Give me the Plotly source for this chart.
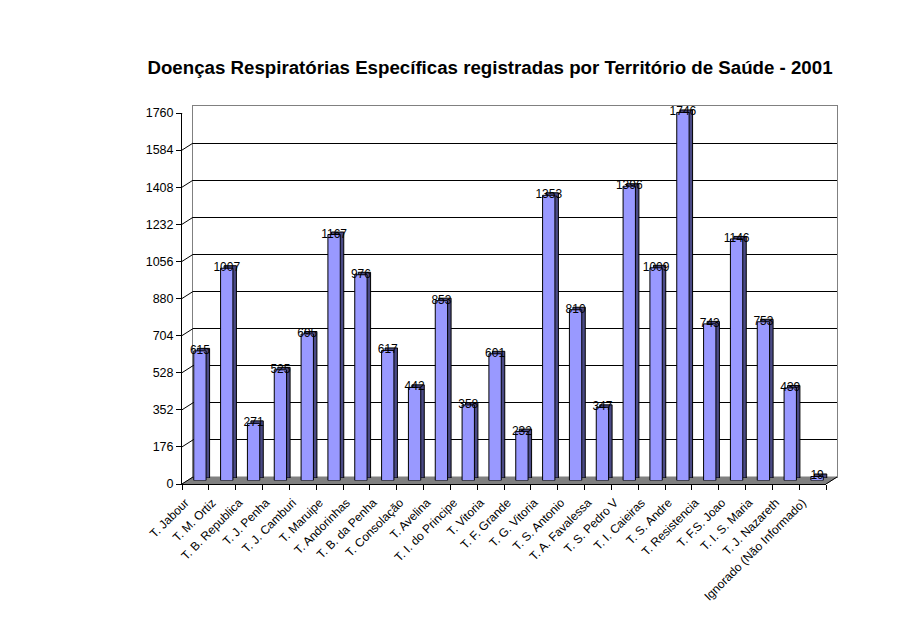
import plotly.graph_objects as go

categories = ["T. Jabour", "T. M. Ortiz", "T. B. Republica", "T. J. Penha", "T. J. Camburi",
              "T. Maruipe", "T. Andorinhas", "T. B. da Penha", "T. Consolação", "T. Avelina",
              "T. I. do Principe", "T. Vitoria", "T. F. Grande", "T. G. Vitoria", "T. S. Antonio",
              "T. A. Favalessa", "T. S. Pedro V", "T. I. Caieiras", "T. S. Andre", "T. Resistencia",
              "T. F.S. Joao", "T. I. S. Maria", "T. J. Nazareth", "Ignorado (Não Informado)"]
values = [615, 1007, 271, 525, 695, 1167, 976, 617, 442, 853, 358, 601, 232, 1353, 810,
          347, 1396, 1009, 1746, 743, 1146, 753, 439, 19]
y_ticks = [0, 176, 352, 528, 704, 880, 1056, 1232, 1408, 1584, 1760]
title = "Doenças Respiratórias Específicas registradas por Território de Saúde - 2001"

OFF = 8  # body margin of the html page
W, H = 902 - 2 * OFF, 625 - 2 * OFF
# front plane in screen pixels
FX0, FX1 = 182, 826
FY0, FY1 = 484, 113  # pixel y for 0 and 1760
DX, DY = 11, 7       # depth offset to back wall
YMAX = 1760


def xd(px0, px1):
    return [(px0 - OFF) / W, (px1 - OFF) / W]


def yd(py0, py1):
    return [1 - (py0 - OFF) / H, 1 - (py1 - OFF) / H]


def px(x):
    return (x - OFF) / W


font = "Liberation Sans, Arial, sans-serif"
n = len(categories)
fig = go.Figure()

# bar placement (middle depth)
BX, BY = 4.5, 3.5
SX, SY = 3.5, 2.5

# back wall dummy
fig.add_trace(go.Scatter(x=[None], y=[None], xaxis="x2", yaxis="y2", showlegend=False, hoverinfo="skip"))
# dark side/top (behind)
fig.add_trace(go.Bar(x=categories, y=values, xaxis="x3", yaxis="y3", width=0.46,
                     marker=dict(color="#4A4A85", line=dict(color="black", width=1)),
                     hoverinfo="skip"))
# front face
fig.add_trace(go.Bar(x=categories, y=values, xaxis="x4", yaxis="y4", width=0.46,
                     marker=dict(color="#9999FF", line=dict(color="black", width=1)),
                     hoverinfo="skip"))
# labels
fig.add_trace(go.Scatter(x=categories, y=values, xaxis="x5", yaxis="y5", mode="text",
                         text=[str(v) for v in values], textposition="middle center",
                         textfont=dict(family=font, size=12, color="black"),
                         cliponaxis=False, hoverinfo="skip"))

dy_data = DY / (FY0 - FY1) * YMAX
shapes = []
# floor
shapes.append(dict(type="path", xref="paper", yref="y",
                   path=f"M {px(FX0)},0 L {px(FX1)},0 L {px(FX1+DX)},{dy_data} L {px(FX0+DX)},{dy_data} Z",
                   fillcolor="#808080", line=dict(color="#808080", width=1), layer="below"))
# diagonal connectors at y ticks
for v in y_ticks:
    shapes.append(dict(type="line", xref="paper", yref="y", x0=px(FX0), x1=px(FX0 + DX),
                       y0=v, y1=v + dy_data, line=dict(color="black", width=1), layer="above"))
# right floor diagonal
shapes.append(dict(type="line", xref="paper", yref="y", x0=px(FX1), x1=px(FX1 + DX),
                   y0=0, y1=dy_data, line=dict(color="black", width=1)))

bar_axis = dict(type="category", categoryorder="array", categoryarray=categories,
                range=[-0.5, n - 0.5], visible=False)

fig.update_layout(
    width=W, height=H,
    margin=dict(l=0, r=0, t=0, b=0, autoexpand=False),
    paper_bgcolor="white", plot_bgcolor="rgba(0,0,0,0)",
    showlegend=False, barmode="overlay",
    title=dict(text=f"<b>{title}</b>", x=px(490), xanchor="center", y=1 - (67 - OFF) / H, yanchor="middle",
               font=dict(family=font, size=18.7, color="black")),
    font=dict(family=font, size=12, color="black"),
    shapes=shapes,
    # back wall
    xaxis2=dict(domain=xd(FX0 + DX, FX1 + DX), range=[-0.5, n - 0.5], showgrid=False, zeroline=False,
                showticklabels=False, ticks="", showline=True, linecolor="#808080", mirror=True,
                anchor="y2", fixedrange=True),
    yaxis2=dict(domain=yd(FY0 - DY, FY1 - DY), range=[0, YMAX], tickvals=y_ticks[1:-1],
                showgrid=True, gridcolor="black", gridwidth=1, zeroline=False,
                showticklabels=False, ticks="", showline=True, linecolor="#808080", mirror=True,
                anchor="x2", fixedrange=True),
    # front axes
    xaxis=dict(domain=xd(FX0, FX1), type="category", categoryorder="array", categoryarray=categories,
               range=[-0.5, n - 0.5], showgrid=False, zeroline=False, showline=True, linecolor="black",
               ticks="outside", ticklen=5, tickson="boundaries", tickcolor="black", tickangle=-45,
               ticklabelstandoff=6, ticklabelshift=-10,
               tickfont=dict(family=font, size=12), anchor="y", fixedrange=True),
    yaxis=dict(domain=yd(FY0, FY1), range=[0, YMAX], tickvals=y_ticks, showgrid=False, zeroline=False,
               showline=True, linecolor="black", ticks="outside", ticklen=5, tickcolor="black",
               tickfont=dict(family=font, size=12.5), anchor="x", fixedrange=True),
    # bars: dark (behind) then front face, then labels
    xaxis3=dict(domain=xd(FX0 + BX + SX, FX1 + BX + SX), anchor="y3", **bar_axis),
    yaxis3=dict(domain=yd(FY0 - BY - SY, FY1 - BY - SY), range=[0, YMAX], visible=False, anchor="x3"),
    xaxis4=dict(domain=xd(FX0 + BX, FX1 + BX), anchor="y4", **bar_axis),
    yaxis4=dict(domain=yd(FY0 - BY, FY1 - BY), range=[0, YMAX], visible=False, anchor="x4"),
    xaxis5=dict(domain=xd(FX0 + BX, FX1 + BX), anchor="y5", **bar_axis),
    yaxis5=dict(domain=yd(FY0 - BY, FY1 - BY), range=[0, YMAX], visible=False, anchor="x5"),
)

fig.write_html("out.html")
